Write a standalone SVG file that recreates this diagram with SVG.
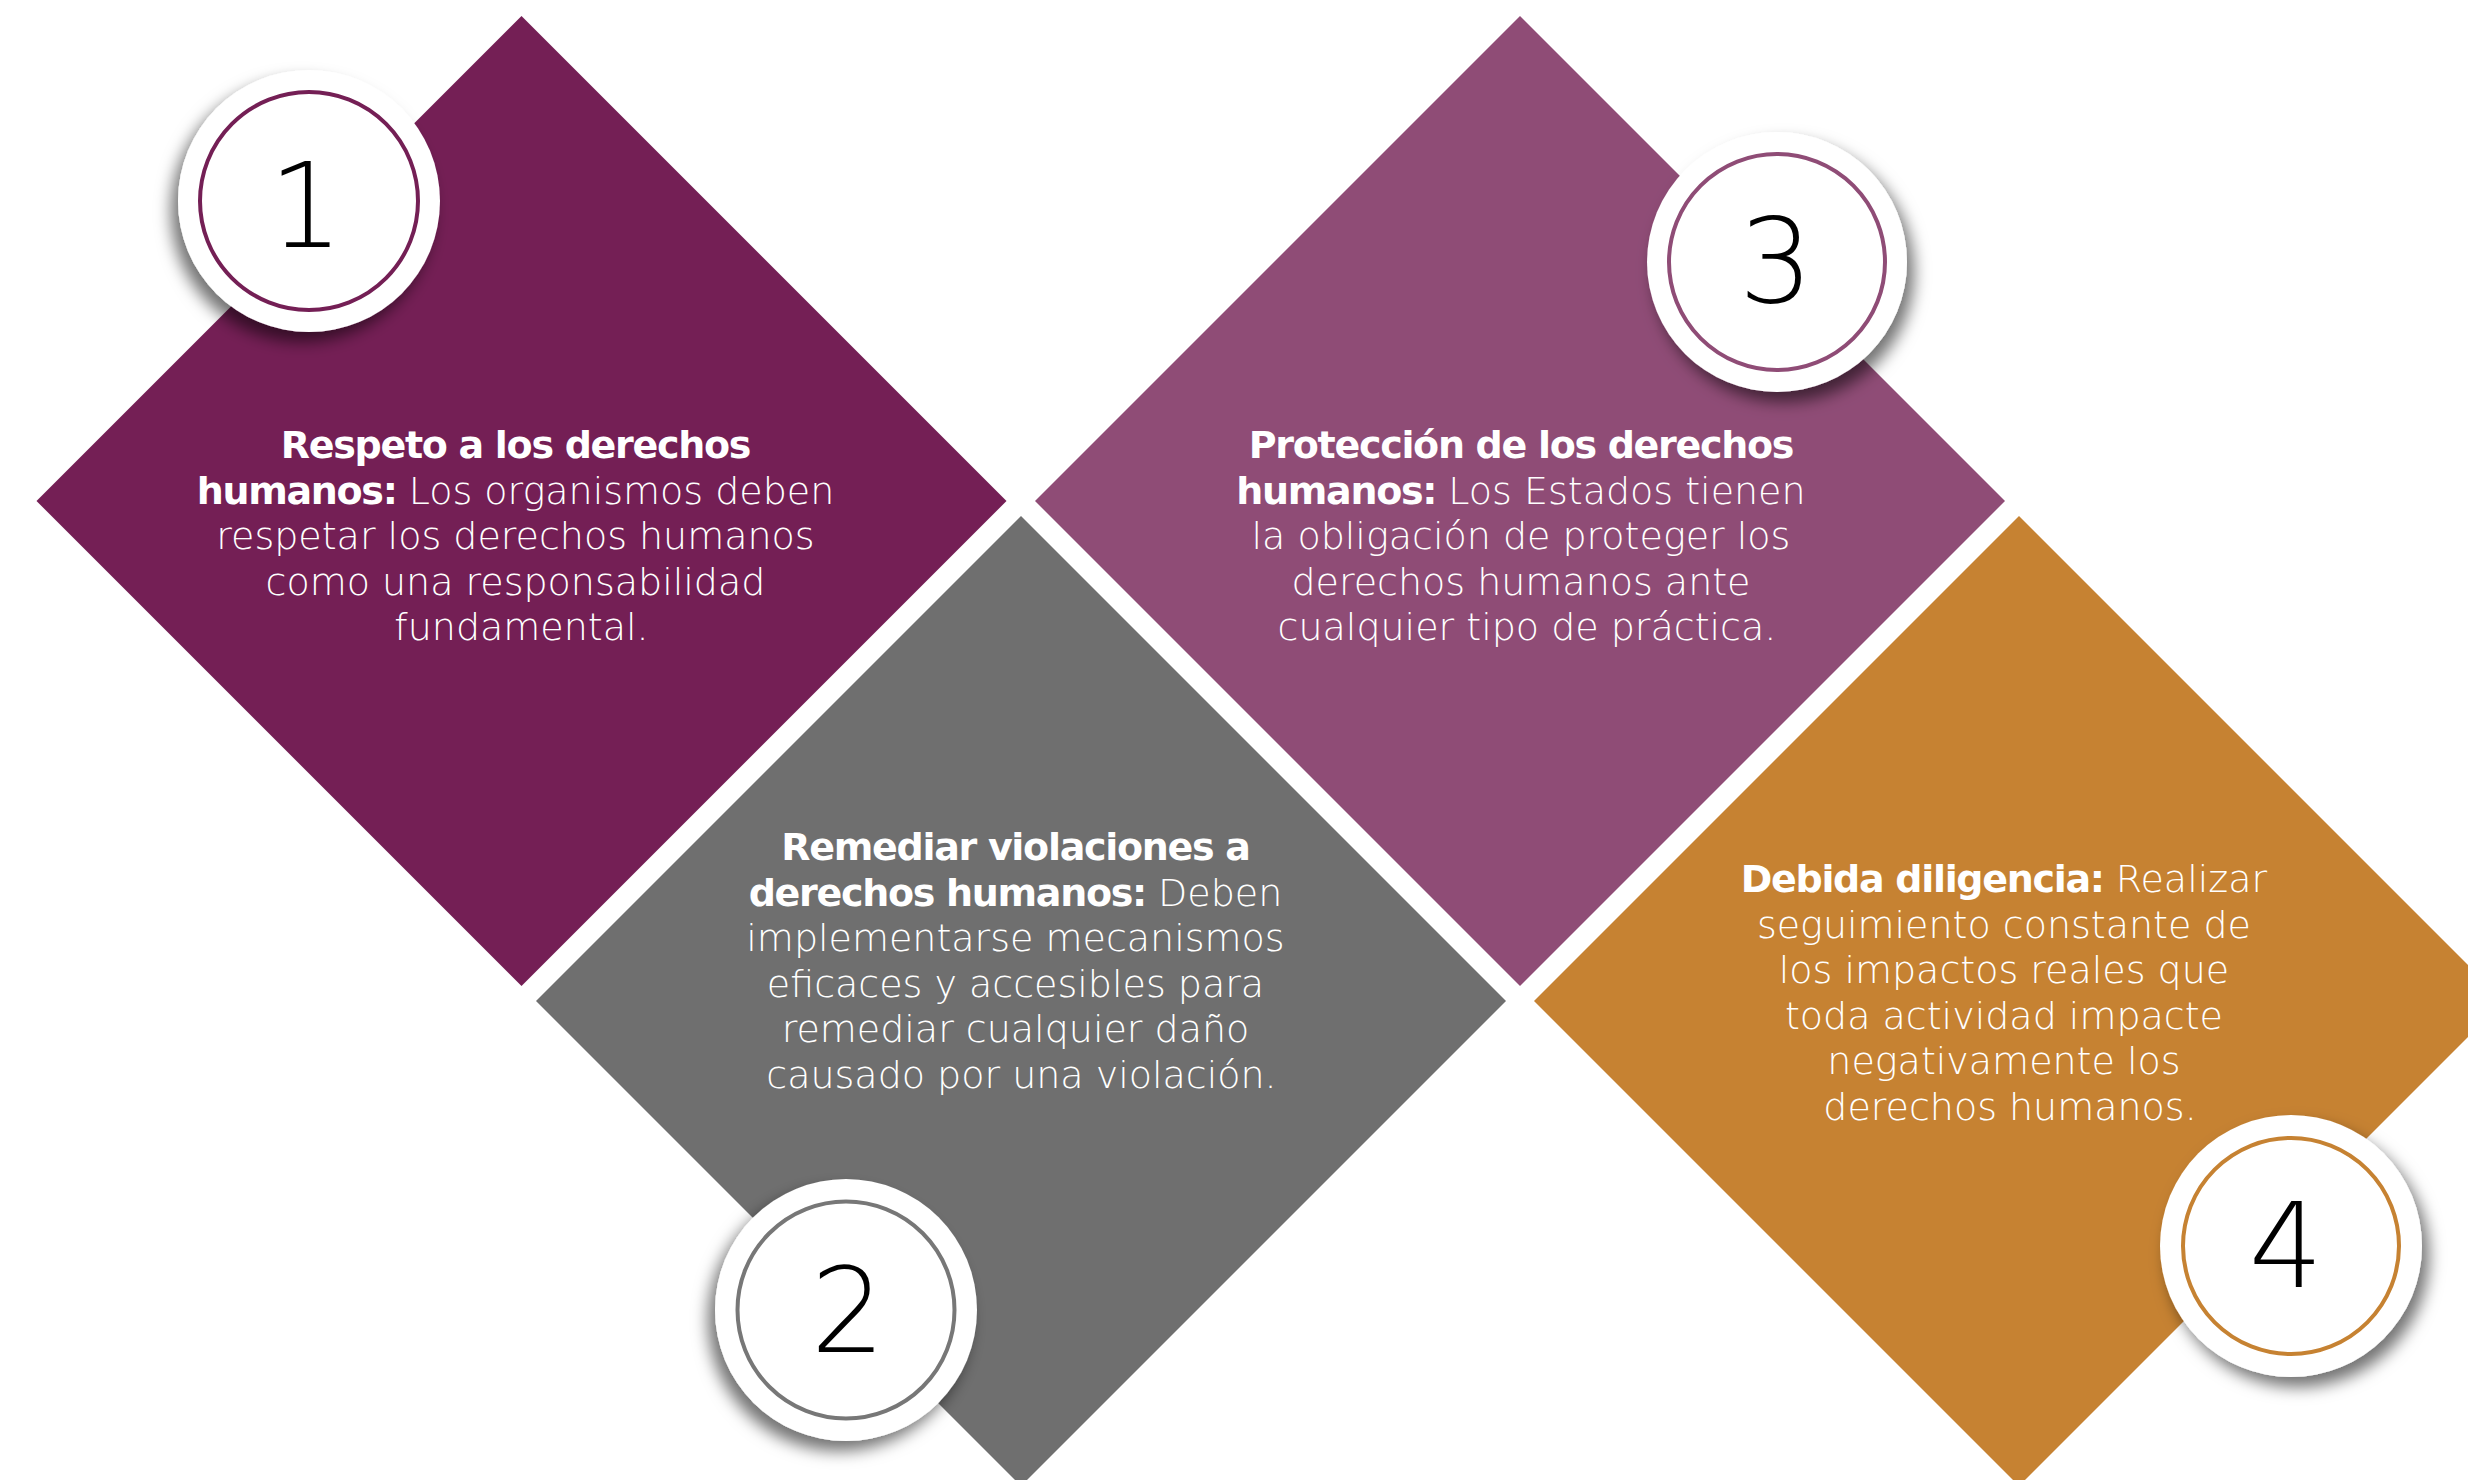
<svg xmlns="http://www.w3.org/2000/svg" width="2468" height="1480" viewBox="0 0 2468 1480">
<style>
  .t { font-family: "DejaVu Sans", "Liberation Sans", sans-serif; font-size: 38px; fill: #ffffff; text-anchor: middle; font-weight: 300; }
  .b { font-weight: 700; letter-spacing: -1.3px; }
  .num { font-family: "DejaVu Sans", "Liberation Sans", sans-serif; font-size: 117px; font-weight: 300; fill: #000000; text-anchor: middle; }
  .disc { fill: #ffffff; }
  .ring { fill: none; stroke-width: 4; }
</style>
<defs>
  <filter id="shL" x="-40%" y="-40%" width="180%" height="180%">
    <feDropShadow dx="-7" dy="10" stdDeviation="8" flood-color="#000" flood-opacity="0.55"/>
  </filter>
  <filter id="shR" x="-40%" y="-40%" width="180%" height="180%">
    <feDropShadow dx="7" dy="10" stdDeviation="8" flood-color="#000" flood-opacity="0.55"/>
  </filter>
</defs>
<rect width="2468" height="1480" fill="#ffffff"/>

<g id="node1">
  <polygon points="521.5,16 1006.5,501 521.5,986 36.5,501" fill="#741F55"/>
  <text class="t">
    <tspan x="521.5" y="458" class="b">Respeto a los derechos</tspan>
    <tspan x="521.5" y="503.5"><tspan class="b">humanos:</tspan> Los organismos deben</tspan>
    <tspan x="521.5" y="549">respetar los derechos humanos</tspan>
    <tspan x="521.5" y="594.5">como una responsabilidad</tspan>
    <tspan x="521.5" y="640">fundamental.</tspan>
  </text>
  <circle class="disc" cx="309" cy="201" r="131" filter="url(#shL)"/>
  <circle class="ring" cx="309" cy="201" r="109" stroke="#741F55"/>
  <text class="num" x="306" y="247">1</text>
</g>

<g id="node2">
  <polygon points="1021,516 1506,1001 1021,1486 536,1001" fill="#6F6F6F"/>
  <text class="t">
    <tspan x="1021.5" y="860" class="b">Remediar violaciones a</tspan>
    <tspan x="1021.5" y="905.5"><tspan class="b">derechos humanos:</tspan> Deben</tspan>
    <tspan x="1021.5" y="951">implementarse mecanismos</tspan>
    <tspan x="1021.5" y="996.5">eficaces y accesibles para</tspan>
    <tspan x="1021.5" y="1042">remediar cualquier daño</tspan>
    <tspan x="1021.5" y="1087.5">causado por una violación.</tspan>
  </text>
  <circle class="disc" cx="846" cy="1310" r="131" filter="url(#shL)"/>
  <circle class="ring" cx="846" cy="1310" r="108.5" stroke="#777777"/>
  <text class="num" x="848" y="1352">2</text>
</g>

<g id="node3">
  <polygon points="1520,16 2005,501 1520,986 1035,501" fill="#8F4C76"/>
  <text class="t">
    <tspan x="1527" y="458" class="b">Protección de los derechos</tspan>
    <tspan x="1527" y="503.5"><tspan class="b">humanos:</tspan> Los Estados tienen</tspan>
    <tspan x="1527" y="549">la obligación de proteger los</tspan>
    <tspan x="1527" y="594.5">derechos humanos ante</tspan>
    <tspan x="1527" y="640">cualquier tipo de práctica.</tspan>
  </text>
  <circle class="disc" cx="1777" cy="262" r="130" filter="url(#shR)"/>
  <circle class="ring" cx="1777" cy="262" r="108" stroke="#8F4C76"/>
  <text class="num" x="1776" y="302">3</text>
</g>

<g id="node4">
  <polygon points="2019,516 2504,1001 2019,1486 1534,1001" fill="#C68232"/>
  <text class="t">
    <tspan x="2010" y="892"><tspan class="b">Debida diligencia:</tspan> Realizar</tspan>
    <tspan x="2010" y="937.5">seguimiento constante de</tspan>
    <tspan x="2010" y="983">los impactos reales que</tspan>
    <tspan x="2010" y="1028.5">toda actividad impacte</tspan>
    <tspan x="2010" y="1074">negativamente los</tspan>
    <tspan x="2010" y="1119.5">derechos humanos.</tspan>
  </text>
  <circle class="disc" cx="2291" cy="1246" r="131" filter="url(#shR)"/>
  <circle class="ring" cx="2291" cy="1246" r="108" stroke="#C68232"/>
  <text class="num" x="2286" y="1287">4</text>
</g>
</svg>
